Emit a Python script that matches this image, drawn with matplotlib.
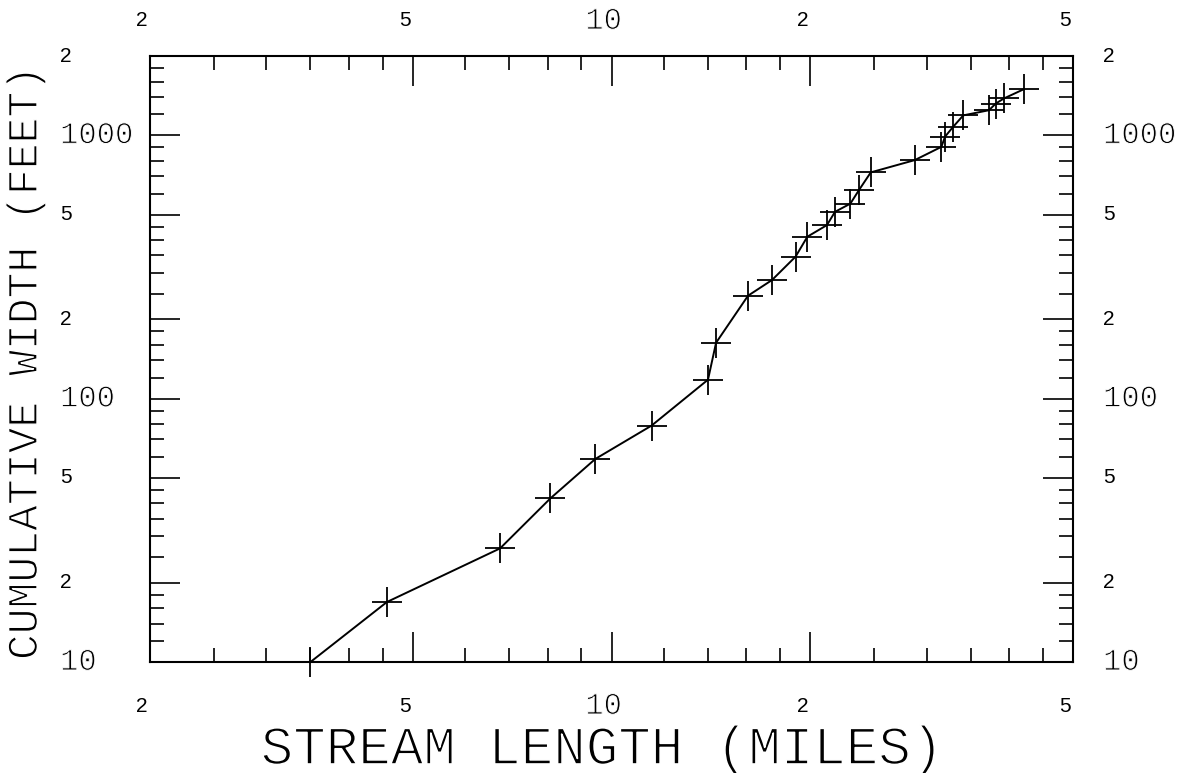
import matplotlib
matplotlib.use('Agg')
import matplotlib.pyplot as plt
import matplotlib.transforms as mtransforms
import matplotlib.patheffects as pe

# 读图得到的数据点（对数坐标）
stream_length = [3.5, 4.57, 6.78, 8.08, 9.45, 11.5, 14.0, 14.4, 16.1, 17.5,
                 19.0, 19.8, 21.2, 21.8, 23.0, 23.7, 24.7, 28.8, 31.6, 32.0,
                 32.9, 34.1, 37.3, 38.2, 39.3, 42.1]
cumulative_width = [10, 16.9, 27.0, 41.8, 59.0, 79.0, 118, 163, 246, 282,
                    346, 412, 456, 512, 550, 619, 723, 805, 904, 988,
                    1075, 1190, 1245, 1320, 1380, 1495]

# 刻度
x_major = [5, 10, 20]
x_minor = [2.5, 3, 3.5, 4, 4.5, 6, 7, 8, 9, 12, 14, 16, 18,
           25, 30, 35, 40, 45]
y_major = [20, 50, 100, 200, 500, 1000]
y_minor = [12, 14, 16, 18, 25, 30, 35, 40, 45, 60, 70, 80, 90,
           120, 140, 160, 180, 250, 300, 350, 400, 450, 600, 700, 800, 900,
           1200, 1400, 1600, 1800]
x_label_vals = [2, 5, 10, 20, 50]
x_label_text = ['2', '5', '10', '2', '5']
y_label_vals = [10, 20, 50, 100, 200, 500, 1000, 2000]
y_label_text = ['10', '2', '5', '100', '2', '5', '1000', '2']

W, H = 1194, 773
fig = plt.figure(figsize=(W / 100, H / 100), dpi=100)
ax = fig.add_axes([150 / W, 1 - 662 / H, 923 / W, 606 / H])
ax.set_xscale('log')
ax.set_yscale('log')
ax.set_xlim(2, 50)
ax.set_ylim(10, 2000)

ax.set_xticks(x_major)
ax.set_xticks(x_minor, minor=True)
ax.set_yticks(y_major)
ax.set_yticks(y_minor, minor=True)
ax.tick_params(which='both', direction='in', top=True, right=True,
               labelbottom=False, labelleft=False, width=1.2, color='black')
ax.tick_params(which='major', length=21.6)
ax.tick_params(which='minor', length=10)
for sp in ax.spines.values():
    sp.set_linewidth(1.5)

ax.plot(stream_length, cumulative_width, color='black', lw=1.4,
        marker='+', ms=21, mew=1.3, clip_on=False)

thin = [pe.Stroke(linewidth=0.7, foreground='white')]


def tick_text(x, y, s, base, dx, dy, ha):
    tr = mtransforms.offset_copy(base, fig=fig, x=dx, y=dy, units='dots')
    if s in ('2', '5'):
        ax.text(x, y, s, transform=tr, ha=ha, va='center',
                family='Liberation Sans', fontsize=15)
    else:
        ax.text(x, y, s, transform=tr, ha=ha, va='center',
                family='Liberation Mono', fontsize=22, path_effects=thin)


# 上下x轴标签
for v, s in zip(x_label_vals, x_label_text):
    tick_text(v, 0, s, ax.get_xaxis_transform(), -8, -44, 'center')
    tick_text(v, 1, s, ax.get_xaxis_transform(), -8, 35, 'center')
# 左右y轴标签
for v, s in zip(y_label_vals, y_label_text):
    tick_text(0, v, s, ax.get_yaxis_transform(), -90, 0, 'left')
    tick_text(1, v, s, ax.get_yaxis_transform(), 30, 0, 'left')

fig.text(602 / W, 1 - 750 / H, 'STREAM LENGTH (MILES)', ha='center',
         va='center', family='Liberation Mono', fontsize=39,
         path_effects=[pe.Stroke(linewidth=1.2, foreground='white')])
fig.text(26 / W, 1 - 364 / H, 'CUMULATIVE WIDTH (FEET)', ha='center',
         va='center', rotation=90, family='Liberation Mono', fontsize=31,
         path_effects=[pe.Stroke(linewidth=1.0, foreground='white')])

plt.savefig('out.png', dpi=100)
